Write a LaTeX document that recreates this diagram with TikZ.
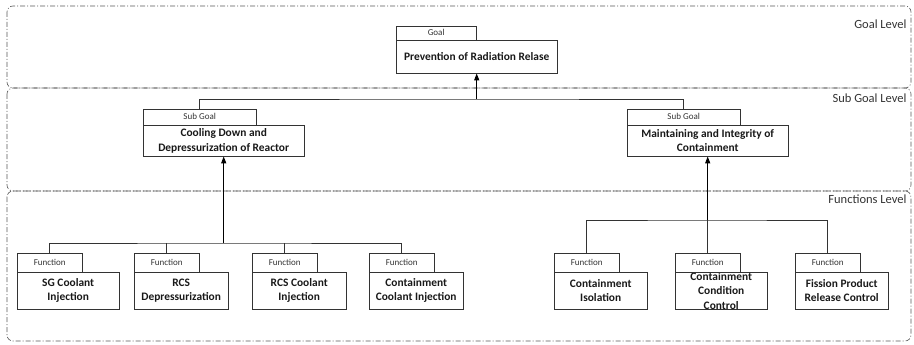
\documentclass[tikz,border=0pt]{standalone}
\usepackage{fontspec}
\setmainfont{Carlito}
\usetikzlibrary{arrows.meta,positioning}

\tikzset{
  tabbox/.style={draw=black!80, fill=white, inner sep=0pt, text=black!80,
    font=\fontsize{9}{10}\selectfont, above right=0pt and 0pt of #1},
  mainbox/.style={draw=black!80, fill=white, inner sep=0pt, align=center,
    anchor=north west, text=black!90, font=\bfseries\fontsize{11.4}{14.5}\selectfont},
  levelframe/.style={draw=black!65, line width=0.6pt,
    dash pattern=on 5pt off 2pt on 1pt off 2pt, rounded corners=6pt},
  levellabel/.style={anchor=east, text=black!80, font=\fontsize{12.5}{14}\selectfont},
  link/.style={draw=black!80, line width=0.8pt},
  uplink/.style={draw=black, line width=1.3pt, -{Triangle[length=7pt,width=5pt]}}
}

\begin{document}
\begin{tikzpicture}[x=1pt,y=-1pt]
	\useasboundingbox (0,0) rectangle (914,345);
	
	% level frames
	\draw[levelframe] (7,6) rectangle (911,88);
	\draw[levelframe] (7,88) rectangle (911,191);
	\draw[levelframe] (7,191) rectangle (911,341);
	\node[levellabel] (lvgoal) at (910,24) {Goal Level};
	\node[levellabel] (lvsub) at (910,98) {Sub Goal Level};
	\node[levellabel] (lvfun) at (910,199) {Functions Level};
	
	% goal
	\node[mainbox, minimum width=161pt, minimum height=33pt] (goal) at (396,40) {Prevention of Radiation Relase};
	\node[tabbox=goal.north west, minimum width=80pt, minimum height=14pt] (goaltab) {Goal};
	
	% sub goals
	\node[mainbox, minimum width=161pt, minimum height=31pt] (sgA) at (143,125) {Cooling Down and\\Depressurization of Reactor};
	\node[tabbox=sgA.north west, minimum width=113pt, minimum height=16pt] (sgAtab) {Sub Goal};
	\node[mainbox, minimum width=161pt, minimum height=31pt] (sgB) at (627,125) {Maintaining and Integrity of\\Containment};
	\node[tabbox=sgB.north west, minimum width=113pt, minimum height=16pt] (sgBtab) {Sub Goal};
	
	% functions under cooling down
	\node[mainbox, minimum width=102pt, minimum height=37pt] (fA1) at (17,272) {SG Coolant\\Injection};
	\node[mainbox, minimum width=94pt, minimum height=37pt] (fA2) at (134,272) {RCS\\Depressurization};
	\node[mainbox, minimum width=94pt, minimum height=37pt] (fA3) at (252,272) {RCS Coolant\\Injection};
	\node[mainbox, minimum width=94pt, minimum height=37pt] (fA4) at (369,272) {Containment\\Coolant Injection};
	\node[tabbox=fA1.north west, minimum width=65pt, minimum height=19pt] (fA1tab) {Function};
	\node[tabbox=fA2.north west, minimum width=65pt, minimum height=19pt] (fA2tab) {Function};
	\node[tabbox=fA3.north west, minimum width=65pt, minimum height=19pt] (fA3tab) {Function};
	\node[tabbox=fA4.north west, minimum width=65pt, minimum height=19pt] (fA4tab) {Function};
	
	% functions under containment
	\node[mainbox, minimum width=93pt, minimum height=37pt] (fB1) at (554,272) {Containment\\Isolation};
	\node[mainbox, minimum width=92pt, minimum height=37pt] (fB2) at (675,272) {Containment\\Condition\\Control};
	\node[mainbox, minimum width=93pt, minimum height=37pt] (fB3) at (795,272) {Fission Product\\Release Control};
	\node[tabbox=fB1.north west, minimum width=65pt, minimum height=19pt] (fB1tab) {Function};
	\node[tabbox=fB2.north west, minimum width=65pt, minimum height=19pt] (fB2tab) {Function};
	\node[tabbox=fB3.north west, minimum width=65pt, minimum height=19pt] (fB3tab) {Function};
	
	% junctions
	\coordinate (jG) at (goal.south |- 0,99);
	\coordinate (jA) at (sgA.south |- 0,243);
	\coordinate (jB) at (sgB.south |- 0,220);
	
	% connectors
	\draw[link] (sgAtab.north) |- (jG) -| (sgBtab.north);
	\draw[uplink] (jG) -- (goal.south);
	
	\draw[link] (fA1tab.north) |- (jA) -| (fA4tab.north);
	\draw[link] (fA2tab.north) -- (fA2tab.north |- jA);
	\draw[link] (fA3tab.north) -- (fA3tab.north |- jA);
	\draw[uplink] (jA) -- (sgA.south);
	
	\draw[link] (fB1tab.north) |- (jB) -| (fB3tab.north);
	\draw[link] (fB2tab.north) -- (fB2tab.north |- jB);
	\draw[uplink] (jB) -- (sgB.south);
	
\end{tikzpicture}
\end{document}
